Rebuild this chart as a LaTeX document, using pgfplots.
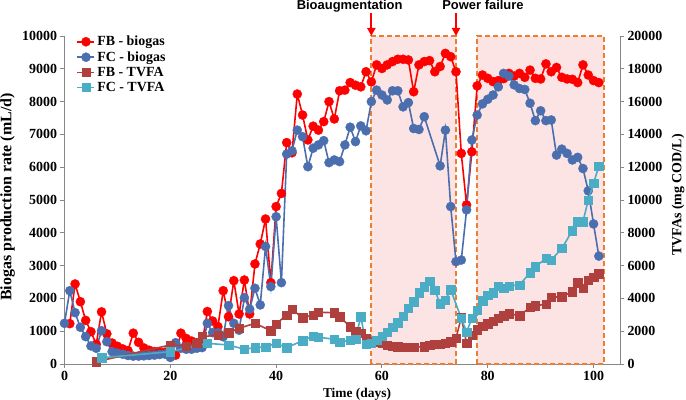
\documentclass[border=0pt]{standalone}
\usepackage{pgfplots}
\usepackage{pgfplotstable}
\pgfplotsset{compat=1.18}
\usepackage{fontspec}
\setmainfont{Liberation Serif}
\newfontfamily\arialfont{Liberation Sans}
\usetikzlibrary{arrows.meta}
\definecolor{fbred}{HTML}{FF0000}
\definecolor{fcblue}{HTML}{4A6EAE}
\definecolor{fbtv}{HTML}{B0403E}
\definecolor{fctv}{HTML}{4BACC6}
\definecolor{boxor}{HTML}{ED7D31}
\definecolor{boxfill}{HTML}{FCE4E4}
\definecolor{axgray}{HTML}{878787}

\pgfplotstableread{
x y
1 1230
2 2440
3 1900
4 1330
5 985
6 600
7 1590
8 920
9 640
10 540
11 460
12 410
13 940
14 660
15 490
16 420
17 380
18 360
19 360
20 380
21 270
22 940
23 780
24 700
25 650
26 620
27 1600
28 1310
29 1140
30 2235
31 1440
32 2540
33 1525
34 2560
35 1525
36 3050
37 3660
38 4420
39 2480
40 4800
41 5200
42 6750
43 6440
44 8230
45 7590
46 6830
47 7250
48 7130
49 7390
50 8000
51 7470
52 8330
53 8350
54 8580
55 8500
56 8450
57 8910
58 8600
59 9120
60 9010
61 9120
62 9220
63 9290
64 9290
65 9270
66 8300
67 9120
68 9220
69 9250
70 8910
71 9070
72 9470
73 9370
74 8910
75 6420
76 4850
77 6470
78 8480
79 8810
80 8710
81 8610
82 8640
83 8700
84 8860
85 8780
86 8860
87 8740
88 8960
89 8710
90 8690
91 9150
92 8910
93 9040
94 8740
95 8690
96 8680
97 8580
98 9120
99 8810
100 8640
101 8580
}\fbbiogas

\pgfplotstableread{
x y
0 1240
1 2235
2 1565
3 1120
4 835
5 550
6 480
7 1015
8 680
9 375
10 330
11 300
12 260
13 240
14 240
15 250
16 260
17 270
18 290
19 300
20 200
21 650
22 480
23 450
24 450
25 480
26 500
27 1240
28 955
29 955
30 830
31 1780
32 1240
33 1030
34 2020
35 1670
36 2310
37 1800
38 3580
39 2360
40 4490
41 2480
42 6400
43 6500
44 7130
45 6930
46 6015
47 6580
48 6680
49 6810
50 6140
51 6220
52 6170
53 6680
54 7220
55 6780
56 7260
57 7110
58 8000
59 8350
60 8200
61 8050
62 8330
63 8330
64 7840
65 7970
66 7180
67 7150
68 7540
71 6040
72 7130
73 4800
74 3120
75 3170
76 4700
77 6830
78 7590
79 7930
80 8070
81 8200
82 8450
83 8860
84 8780
85 8510
86 8400
87 8370
88 7950
89 7420
90 7720
91 7420
92 7440
93 6370
94 6550
95 6420
96 6220
97 6300
98 5960
99 5280
100 4270
101 3290
}\fcbiogas

\pgfplotstableread{
x y
6 140
20 1160
23 1100
25 1260
26 1660
29 1770
31 1910
33 2180
36 2480
39 2030
40 2440
42 2990
43 3330
45 2820
47 2990
48 3150
51 3130
52 2880
54 2280
55 1970
56 1870
57 1570
58 1400
59 1360
60 1260
61 1160
62 1100
63 1050
64 1020
65 1020
66 1020
68 1060
69 1160
70 1200
71 1220
72 1260
73 1360
74 1570
75 2850
76 1260
77 1770
78 2100
79 2300
80 2450
81 2600
82 2800
83 2950
84 3070
86 2940
88 3450
89 3550
91 3650
92 4070
94 4100
96 4400
97 4950
98 4610
99 5100
100 5300
101 5500
}\fbtvfa

\pgfplotstableread{
x y
7 380
20 750
27 1260
31 1160
34 900
36 1000
38 1040
40 1260
42 1000
45 1420
47 1710
48 1630
51 1510
52 1320
54 1460
55 1520
56 2890
57 1200
58 1260
59 1450
60 1700
61 1950
62 2240
63 2520
64 2930
65 3400
66 3800
67 4350
68 4710
69 5040
70 4490
71 3680
72 3900
73 4530
75 2790
76 1950
77 2790
78 3300
79 3860
80 4210
81 4350
82 4760
83 4620
84 4760
86 4820
88 5570
89 5930
91 6440
92 6340
94 7050
96 8130
97 8680
98 8680
99 10000
100 11020
101 12070
}\fctvfa

\begin{document}
\begin{tikzpicture}
\useasboundingbox (-64.5bp,-36bp) rectangle (621.5bp,364bp);
\pgfplotsset{
  base/.style={
    at={(0,0)}, anchor=south west,
    scale only axis, width=555.5bp, height=328bp,
    xmin=0, xmax=105,
    tick align=outside,
    major tick length=4bp,
    scaled ticks=false,
    axis line style={-, axgray, line width=0.9bp},
    tick style={axgray, line width=0.9bp},
    ticklabel style={font=\bfseries\fontsize{14}{14}\selectfont, text=black},
    /pgf/number format/assume math mode=true,
    /pgf/number format/1000 sep={},
    clip=false,
  },
  bio/.style={line width=1.6bp, mark=*, mark size=4.6bp, mark options={solid, line width=0.3bp}},
  tv/.style={line width=1.6bp, mark=square*, mark size=4.2bp, mark options={solid, line width=0.3bp}},
}
\begin{axis}[base,
  ymin=0, ymax=10000,
  axis y line*=left, axis x line*=bottom,
  xtick={0,20,...,100}, ytick={0,1000,...,10000},
]
\fill[boxfill] (axis cs:58,0) rectangle (axis cs:74,10000);
\fill[boxfill] (axis cs:78,0) rectangle (axis cs:102,10000);
\draw[boxor, line width=2bp, dash pattern=on 5bp off 3bp] (axis cs:58,0) rectangle (axis cs:74,10000);
\draw[boxor, line width=2bp, dash pattern=on 5bp off 3bp] (axis cs:78,0) rectangle (axis cs:102,10000);
\addplot[bio, color=fbred] table[x=x,y=y] {\fbbiogas};
\addplot[bio, color=fcblue] table[x=x,y=y] {\fcbiogas};
\draw[fbred, line width=2bp, -{Triangle[length=8bp,width=8bp]}] (axis cs:58,10701) -- (axis cs:58,10000);
\draw[fbred, line width=2bp, -{Triangle[length=8bp,width=8bp]}] (axis cs:74,10701) -- (axis cs:74,10000);
\node[font=\arialfont\bfseries\fontsize{13}{13}\selectfont, anchor=base] at (axis cs:53.9,10823) {Bioaugmentation};
\node[font=\arialfont\bfseries\fontsize{13}{13}\selectfont, anchor=base] at (axis cs:79.1,10823) {Power failure};
\node[font=\bfseries\fontsize{13.5}{13.5}\selectfont, anchor=base] at ([yshift=-33bp]axis cs:55.3,0) {Time (days)};
\node[font=\bfseries\fontsize{16}{16}\selectfont, rotate=90, anchor=center] at ([xshift=-57bp]axis cs:0,5091) {Biogas production rate (mL/d)};
\node[font=\bfseries\fontsize{14}{14}\selectfont, rotate=90, anchor=center] at ([xshift=58bp]axis cs:105,5152) {TVFAs (mg COD/L)};
\end{axis}
\begin{axis}[base,
  ymin=0, ymax=20000,
  axis y line*=right, axis x line=none,
  ytick={0,2000,...,20000},
  legend style={at={(0,1)}, anchor=north west, xshift=9bp, yshift=4bp, draw=none, fill=none,
    font=\bfseries\fontsize{14}{14}\selectfont, row sep=0.3bp},
  legend cell align=left,
]
\addlegendimage{bio, color=fbred}
\addlegendentry{FB - biogas}
\addlegendimage{bio, color=fcblue}
\addlegendentry{FC - biogas}
\addplot[tv, color=fbtv] table[x=x,y=y] {\fbtvfa};
\addlegendentry{FB - TVFA}
\addplot[tv, color=fctv] table[x=x,y=y] {\fctvfa};
\addlegendentry{FC - TVFA}
\end{axis}
\end{tikzpicture}
\end{document}
